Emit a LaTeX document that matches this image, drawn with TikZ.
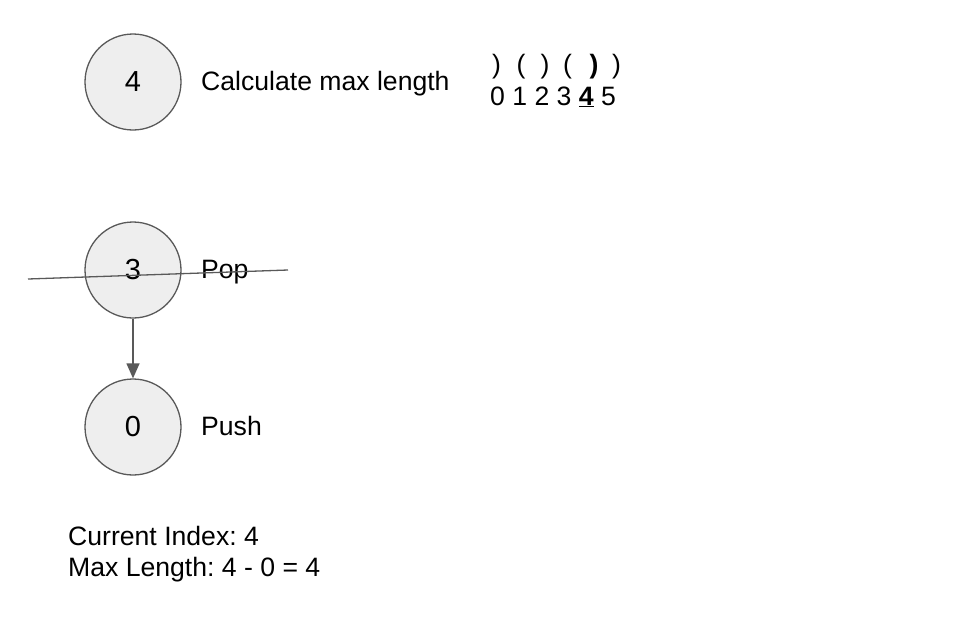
\documentclass[tikz,border=0pt]{standalone}
\usepackage{fontspec}
\setmainfont{Liberation Sans}
\frenchspacing
\usetikzlibrary{arrows.meta}
\definecolor{stroke}{HTML}{595959}
\definecolor{cfill}{HTML}{EEEEEE}
\tikzset{
  x=1pt, y=-1pt,
  state/.style={circle, draw=stroke, fill=cfill, line width=1.3pt, minimum size=96pt, inner sep=0pt, font=\fontsize{29}{34}\selectfont},
  lbl/.style={anchor=base west, inner sep=0pt, font=\fontsize{26.6}{32}\selectfont},
  par/.style={anchor=base, inner sep=0pt, font=\fontsize{26.6}{32}\selectfont},
  link/.style={draw=stroke, line width=1.3pt, -{Triangle[length=15pt,width=13pt]}},
  strike/.style={draw=stroke, line width=1.3pt}
}
\begin{document}
\begin{tikzpicture}
\useasboundingbox (0,0) rectangle (956,622);
\fill[white] (0,0) rectangle (956,622);
% circles
\node[state] (c4) at (133,82) {4};
\node[state] (c3) at (133,270) {3};
\node[state] (c0) at (133,427) {0};
% labels
\node[lbl] (calc) at (201,90) {Calculate max length};
\node[lbl] (pop) at (201,278) {Pop};
\node[lbl] (push) at (201,435) {Push};
% index row
\node[par] (p0) at (496.5,73) {)};
\node[par] (p1) at (521,73) {(};
\node[par] (p2) at (545,73) {)};
\node[par] (p3) at (567.5,73) {(};
\node[par] (p4) at (594,73) {\textbf{)}};
\node[par] (p5) at (616.5,73) {)};
\node[lbl] (digits) at (490,105) {0 1 2 3 \underline{\textbf{4}} 5};
% bottom text
\node[lbl] (cur) at (68,545) {Current Index: 4};
\node[lbl] (maxl) at (68,576) {Max Length: 4 - 0 = 4};
% connector
\draw[link] (c3) -- (c0);
% strike-through
\coordinate (sA) at (28,279);
\coordinate (sB) at (288,270);
\draw[strike] (sA) -- (sB);
\end{tikzpicture}
\end{document}
